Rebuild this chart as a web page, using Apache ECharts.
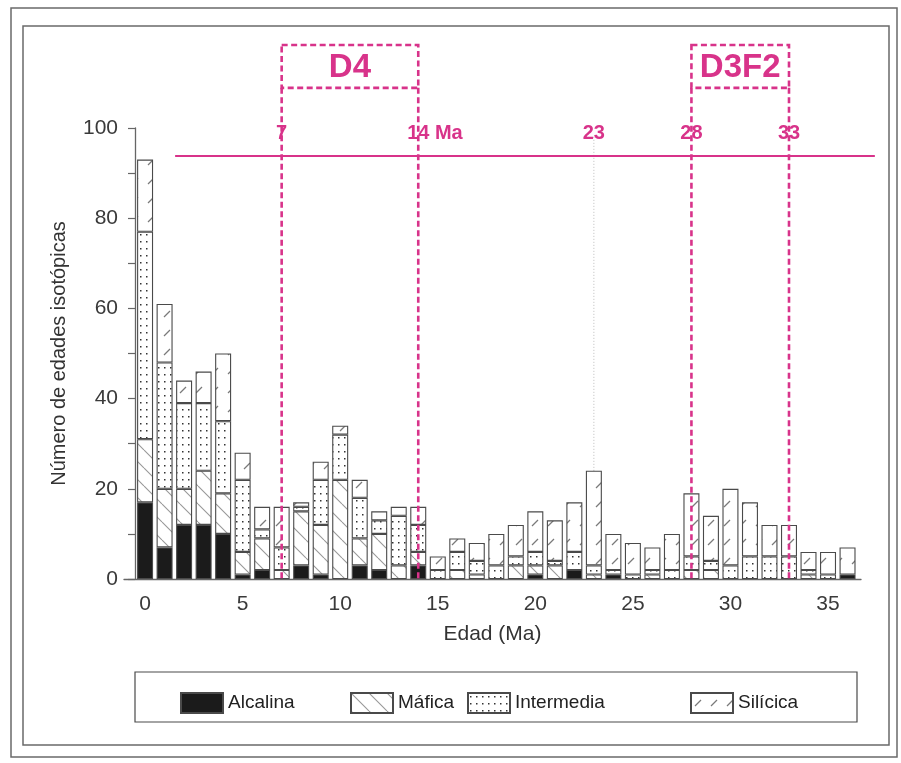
<!DOCTYPE html>
<html>
<head>
<meta charset="utf-8">
<script src="https://cdn.jsdelivr.net/npm/echarts@6/dist/echarts.min.js"></script>
<style>
  html, body { margin: 0; padding: 0; background: #fff; }
  #chart { width: 901px; height: 763px; }
</style>
</head>
<body>
<div id="chart"></div>
<script>
// Age bins (Ma) and number of isotopic ages per rock type
const ages = [0,1,2,3,4,5,6,7,8,9,10,11,12,13,14,15,16,17,18,19,20,21,22,23,24,25,26,27,28,29,30,31,32,33,34,35,36];
const alcalina   = [17,7,12,12,10,1,2,0,3,1,0,3,2,0,3,0,0,0,0,0,1,0,2,0,1,0,0,0,0,0,0,0,0,0,0,0,1];
const mafica     = [14,13,8,12,9,5,7,2,12,11,22,6,8,3,3,0,2,1,0,3,2,3,0,1,0,0,1,0,2,2,0,0,0,0,1,0,0];
const intermedia = [46,28,19,15,16,16,2,5,1,10,10,9,3,11,6,2,4,3,3,2,3,1,4,2,1,1,1,2,3,2,3,5,5,5,1,1,0];
const silicica   = [16,13,5,7,15,6,5,9,1,4,2,4,2,2,4,3,3,4,7,7,9,9,11,21,8,7,5,8,14,10,17,12,7,7,4,5,6];
const seriesNames = ['Alcalina', 'Máfica', 'Intermedia', 'Silícica'];

// Axis ticks
const xTicks = [0, 5, 10, 15, 20, 25, 30, 35];

// Deformation phases (Ma) and age markers
const phaseNames = ['D4', 'D3F2'];
const phaseStart = [7, 28];
const phaseEnd   = [14, 33];
const markerAges   = [7, 14, 23, 28, 33];
const markerLabels = ['7', '14 Ma', '23', '28', '33'];

const PINK = '#d8338a';
const FONT = '"Liberation Sans", Arial, sans-serif';

function makePattern(w, h, draw) {
  const c = document.createElement('canvas');
  c.width = w; c.height = h;
  const ctx = c.getContext('2d');
  ctx.fillStyle = '#ffffff';
  ctx.fillRect(0, 0, w, h);
  draw(ctx, w, h);
  return { image: c, repeat: 'repeat' };
}

// "\" hatching for mafic rocks
const maficFill = makePattern(18, 18, (ctx, w, h) => {
  ctx.strokeStyle = '#999999';
  ctx.lineWidth = 1.1;
  ctx.beginPath();
  for (let k = -1; k <= 1; k++) {
    ctx.moveTo(k * w, 0);
    ctx.lineTo(k * w + w, h);
  }
  ctx.stroke();
});

// dotted fill for intermediate rocks
const intermediaFill = makePattern(6, 7, (ctx) => {
  ctx.fillStyle = '#333333';
  ctx.fillRect(2, 3, 1.5, 1.5);
});

// short "/" dashes for silicic rocks
const silicicaFill = makePattern(16, 19, (ctx) => {
  ctx.strokeStyle = '#7a7a7a';
  ctx.lineWidth = 1.2;
  ctx.beginPath();
  ctx.moveTo(4, 13);
  ctx.lineTo(10, 7);
  ctx.stroke();
});

const fills = ['#1b1b1b', maficFill, intermediaFill, silicicaFill];
const values = [alcalina, mafica, intermedia, silicica];

// count first, age second, so the count dimension is the one that stacks
const barSeries = seriesNames.map((name, s) => ({
  type: 'bar',
  name: name,
  stack: 'total',
  barWidth: 16,
  z: 2,
  dimensions: ['count', 'age'],
  encode: { x: 'age', y: 'count' },
  data: ages.map((a, i) => [values[s][i] === 0 ? '-' : values[s][i], a]),
  itemStyle: { color: fills[s], borderColor: '#4a4a4a', borderWidth: 1.1 }
}));

// Dashed boxes of the deformation phases, with their bounding age lines
const phaseSeries = {
  type: 'custom',
  name: 'phases',
  z: 5,
  silent: true,
  data: phaseStart.map((s, i) => [s, phaseEnd[i]]),
  renderItem: (params, api) => {
    const x0 = api.value(0), x1 = api.value(1);
    const tl = api.coord([x0, 118.4]);
    const br = api.coord([x1, 108.9]);
    const b0 = api.coord([x0, 0]);
    const b1 = api.coord([x1, 0]);
    const dash = { stroke: PINK, lineWidth: 2.6, lineDash: [6, 3.5], fill: 'none' };
    return {
      type: 'group',
      children: [
        { type: 'rect', shape: { x: tl[0], y: tl[1], width: br[0] - tl[0], height: br[1] - tl[1] }, style: dash },
        { type: 'line', shape: { x1: tl[0], y1: br[1], x2: b0[0], y2: b0[1] }, style: dash },
        { type: 'line', shape: { x1: br[0], y1: br[1], x2: b1[0], y2: b1[1] }, style: dash },
        { type: 'text', style: {
            text: phaseNames[params.dataIndex],
            x: (tl[0] + br[0]) / 2, y: (tl[1] + br[1]) / 2 + 1,
            align: 'center', verticalAlign: 'middle',
            fill: PINK, font: 'bold 33px ' + FONT } }
      ]
    };
  }
};

// Age labels above the axis, with a dotted guide for the lone 23 Ma marker
const markerSeries = {
  type: 'custom',
  name: 'markers',
  z: 1,
  silent: true,
  data: markerAges.map(a => [a, 98.8]),
  renderItem: (params, api) => {
    const a = api.value(0);
    const p = api.coord([a, api.value(1)]);
    const label = markerLabels[params.dataIndex];
    const numLen = String(a).length;
    const half = numLen * 0.556 * 20 / 2;
    const children = [
      { type: 'text', z2: 10, style: {
          text: label, x: p[0] - half, y: p[1],
          align: 'left', verticalAlign: 'middle',
          fill: PINK, font: 'bold 20px ' + FONT } }
    ];
    const isEdge = phaseStart.includes(a) || phaseEnd.includes(a);
    if (!isEdge) {
      const top = api.coord([a, 100.7]);
      const bot = api.coord([a, 0]);
      children.push({ type: 'line', shape: { x1: top[0], y1: top[1] + 12, x2: bot[0], y2: bot[1] },
        style: { stroke: '#bdbdbd', lineWidth: 1, lineDash: [1, 2] } });
    }
    return { type: 'group', children };
  }
};

// Horizontal time line under the age labels
const timeLineSeries = {
  type: 'custom',
  name: 'timeline',
  z: 4,
  silent: true,
  data: [[1.54, 37.4, 93.8]],
  renderItem: (params, api) => {
    const p0 = api.coord([api.value(0), api.value(2)]);
    const p1 = api.coord([api.value(1), api.value(2)]);
    return { type: 'line', shape: { x1: p0[0], y1: p0[1], x2: p1[0], y2: p1[1] },
      style: { stroke: PINK, lineWidth: 2 } };
  }
};

const legendLefts = [180, 350, 467, 690];
const legends = seriesNames.map((n, i) => ({
  data: [n],
  left: legendLefts[i],
  top: 692,
  padding: 0,
  itemWidth: 42,
  itemHeight: 20,
  icon: 'rect',
  selectedMode: false,
  textStyle: { fontSize: 19, color: '#222', fontFamily: FONT }
}));

const chart = echarts.init(document.getElementById('chart'));
chart.setOption({
  animation: false,
  backgroundColor: '#ffffff',
  textStyle: { fontFamily: FONT },
  grid: { left: 124, right: 40, top: 128, bottom: 184, containLabel: false },
  legend: legends,
  xAxis: {
    type: 'value',
    min: -1.08,
    max: 36.69,
    splitLine: { show: false },
    axisLine: { onZero: false, lineStyle: { color: '#666', width: 1.3 } },
    axisTick: { show: false },
    axisLabel: { customValues: xTicks, fontSize: 21, color: '#3a3a3a', margin: 15, fontFamily: FONT },
    name: 'Edad (Ma)',
    nameLocation: 'middle',
    nameGap: 45,
    nameTextStyle: { fontSize: 21, color: '#333', fontFamily: FONT }
  },
  yAxis: {
    type: 'value',
    min: 0,
    max: 100,
    interval: 10,
    offset: -11,
    splitLine: { show: false },
    axisLine: { show: true, onZero: false, lineStyle: { color: '#666', width: 1.3 } },
    axisTick: { show: true, length: 7, lineStyle: { color: '#666', width: 1.2 } },
    axisLabel: { formatter: v => (v % 20 === 0 ? String(v) : ''), fontSize: 21, color: '#3a3a3a', margin: 17, fontFamily: FONT },
    name: 'Número de edades isotópicas',
    nameLocation: 'middle',
    nameGap: 66,
    nameTextStyle: { fontSize: 20, color: '#333', fontFamily: FONT }
  },
  graphic: [
    { type: 'rect', z: -10, silent: true, shape: { x: 11, y: 8, width: 886, height: 749 },
      style: { fill: 'none', stroke: '#6a6a6a', lineWidth: 1.5 } },
    { type: 'rect', z: -10, silent: true, shape: { x: 23, y: 26, width: 866, height: 719 },
      style: { fill: 'none', stroke: '#6a6a6a', lineWidth: 1.5 } },
    { type: 'rect', z: -10, silent: true, shape: { x: 135, y: 672, width: 722, height: 50 },
      style: { fill: 'none', stroke: '#4a4a4a', lineWidth: 1.2 } }
  ],
  series: [...barSeries, markerSeries, timeLineSeries, phaseSeries]
});
</script>
</body>
</html>
